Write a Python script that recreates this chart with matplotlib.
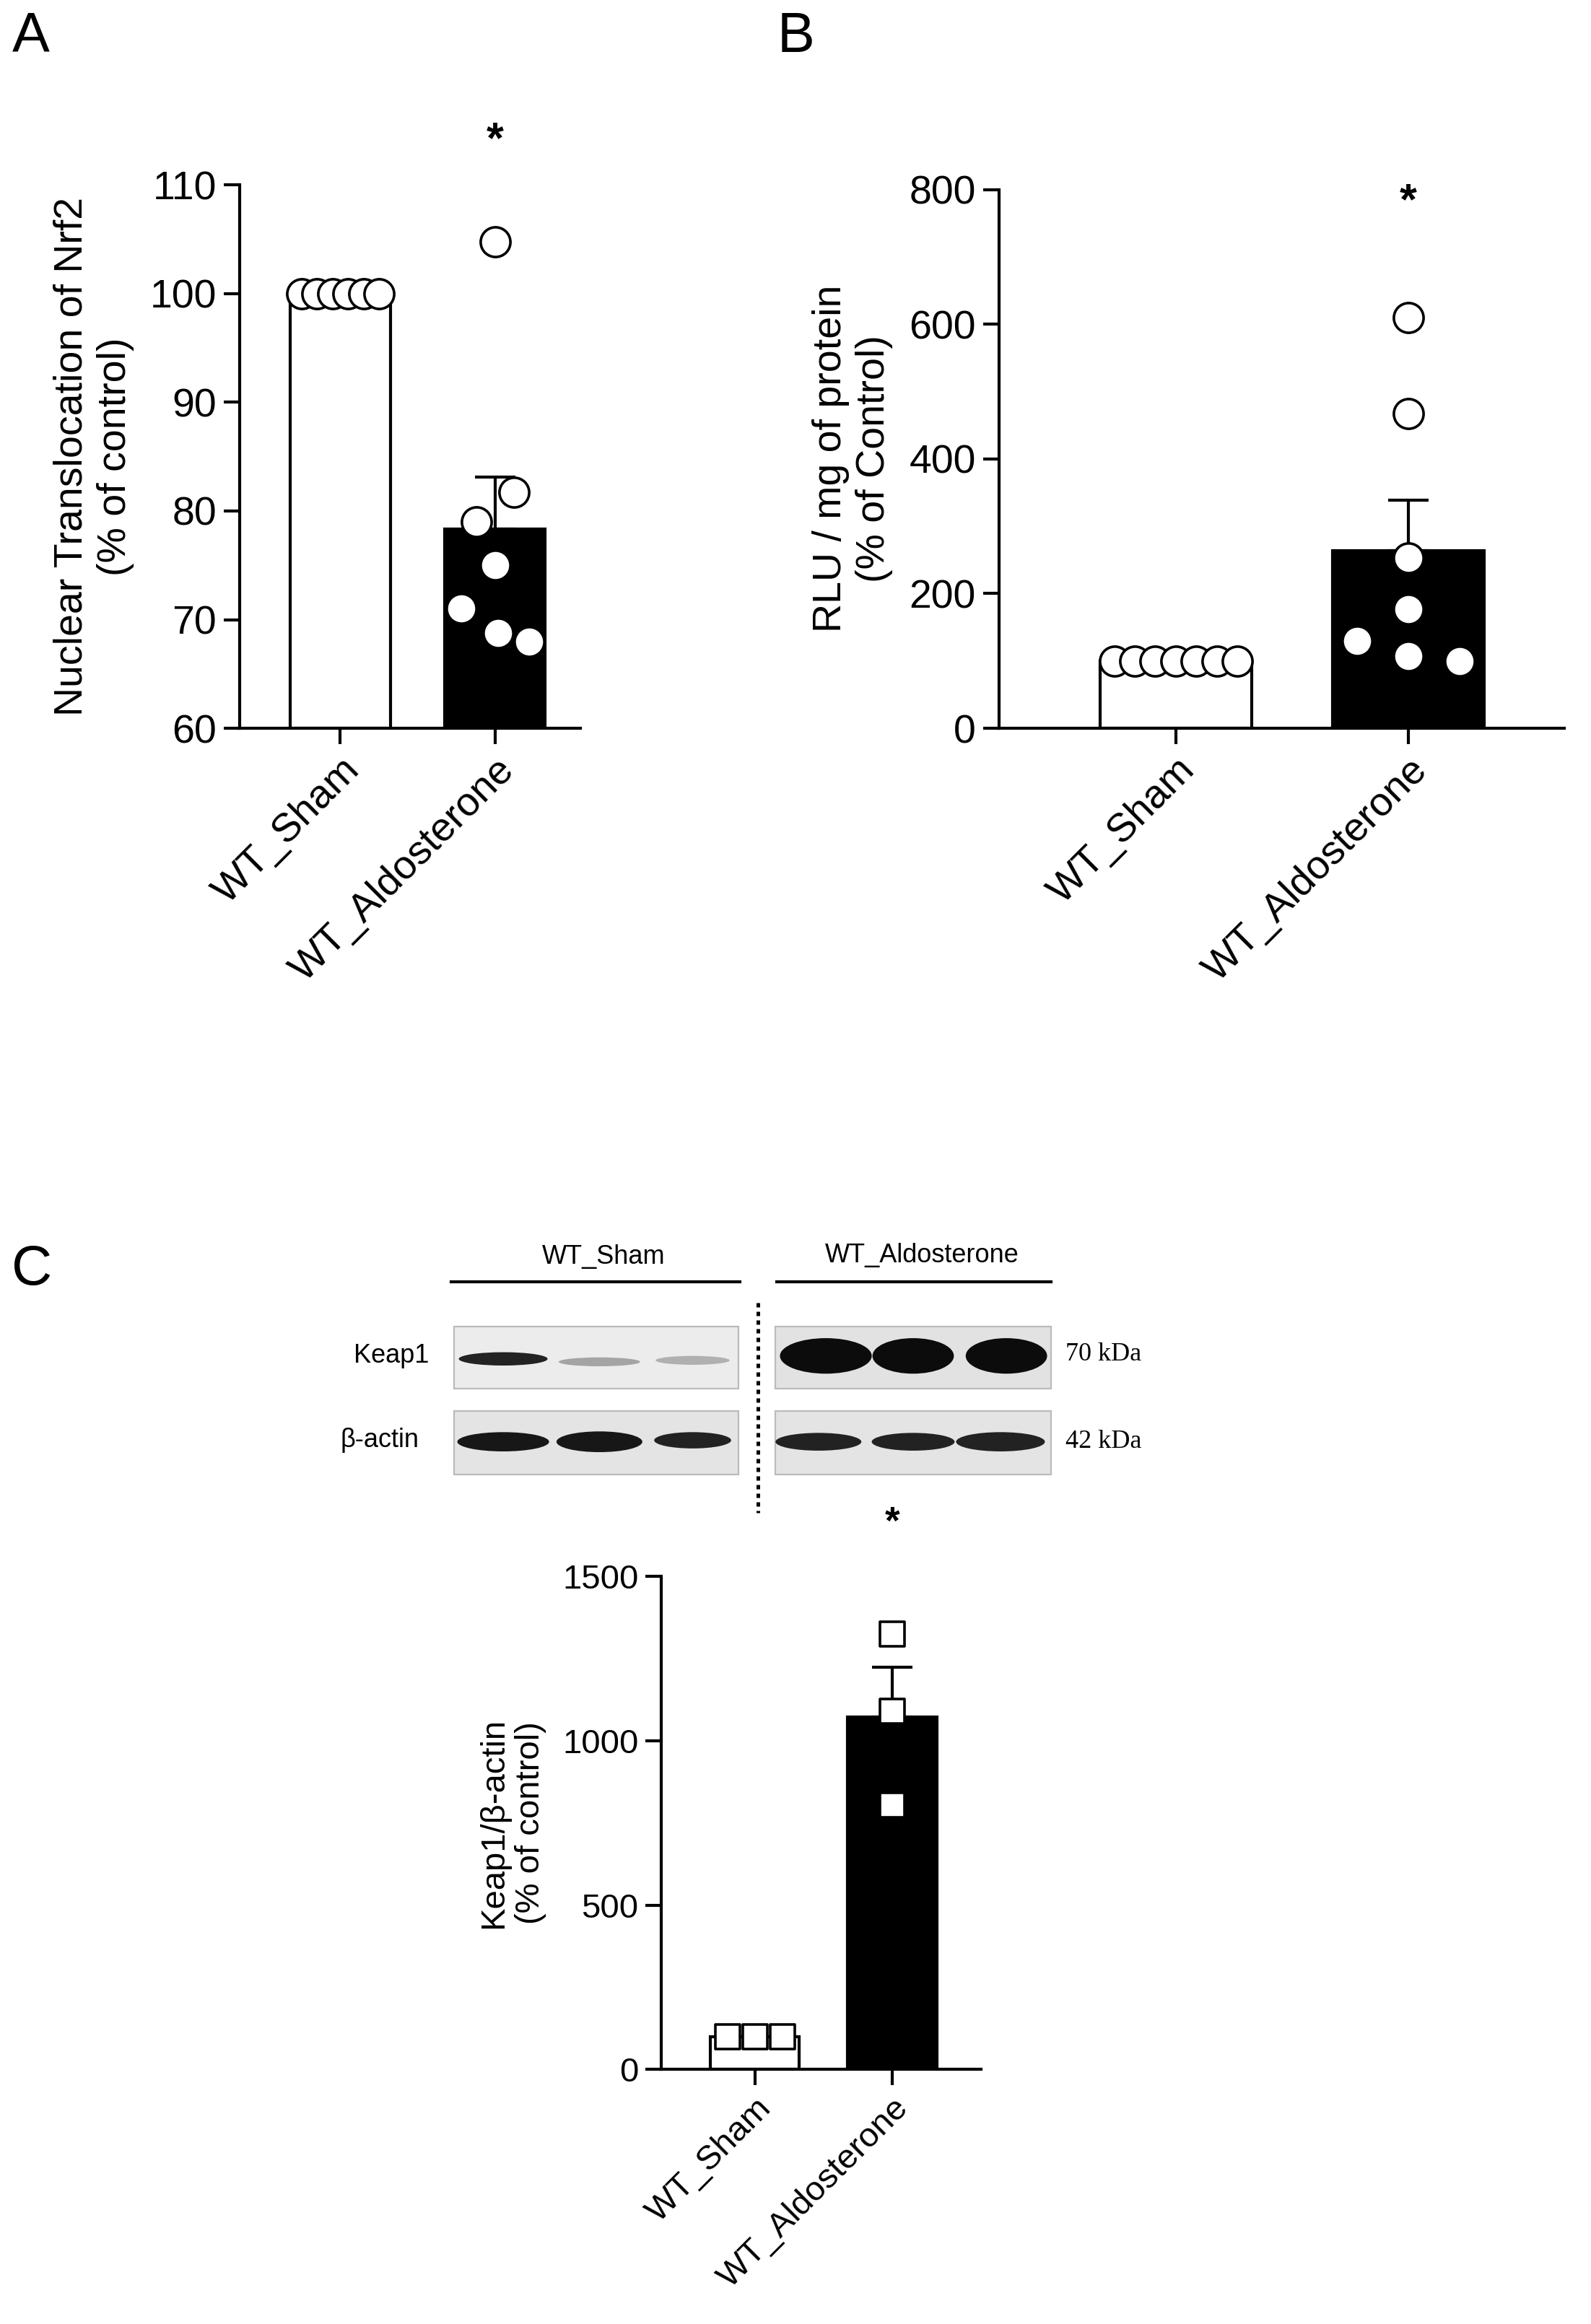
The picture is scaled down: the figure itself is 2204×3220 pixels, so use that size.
import numpy as np
import matplotlib
matplotlib.use("Agg")
import matplotlib.pyplot as plt
from matplotlib.patches import Rectangle, Ellipse

plt.rcParams['font.family'] = ['Liberation Sans', 'DejaVu Sans']

groups = ["WT_Sham", "WT_Aldosterone"]
a_sham = [100, 100, 100, 100, 100, 100]
a_aldo = [104.8, 81.7, 79, 75, 71, 68.8, 68]
b_sham = [100, 100, 100, 100, 100, 100, 100]
b_aldo = [610, 467, 253, 177, 130, 107, 100]
c_sham = [100, 100, 100]
c_aldo = [1325, 1090, 805]

W, H = 1075, 1570
fig = plt.figure(figsize=(11.02, 16.1), dpi=200)

def axbox(l, r, t, b):
    return fig.add_axes([l / W, 1 - b / H, (r - l) / W, (b - t) / H])

def sem(v):
    v = np.asarray(v, float)
    return v.std(ddof=1) / np.sqrt(len(v))

def offsets(n, step):
    return (np.arange(n) - (n - 1) / 2) * step

def panel(ax, sham, aldo, ylim, ticks, ylabel, xlim, marker, ms, fs, spread_s, spread_a, star_y, aldo_order_off):
    ax.set_xlim(*xlim)
    ax.set_ylim(*ylim)
    means = [np.mean(sham), np.mean(aldo)]
    ax.bar([0, 1], [m - ylim[0] for m in means], bottom=ylim[0], width=0.65,
           color=['white', 'black'], edgecolor='black', linewidth=1.5, zorder=2)
    ax.errorbar([1], [means[1]], yerr=[[0], [sem(aldo)]], color='black', capsize=10,
                capthick=1.5, elinewidth=1.5, zorder=1)
    ax.scatter(offsets(len(sham), spread_s), sham, s=ms, marker=marker, facecolor='white',
               edgecolor='black', linewidth=1.3, zorder=3)
    xs = 1 + np.array(aldo_order_off)
    fc = ['white' if v > means[1] else 'white' for v in aldo]
    ax.scatter(xs, aldo, s=ms, marker=marker, facecolor='white', edgecolor='black',
               linewidth=1.3, zorder=3)
    ax.text(1, star_y, '*', ha='center', va='center', fontsize=fs + 2, fontweight='bold')
    ax.set_yticks(ticks)
    ax.set_xticks([0, 1])
    ax.set_xticklabels(groups, rotation=45, ha='right', rotation_mode='anchor', fontsize=fs)
    ax.tick_params(axis='y', labelsize=fs, width=1.5, length=8)
    ax.tick_params(axis='x', width=1.5, length=8)
    for s in ['top', 'right']:
        ax.spines[s].set_visible(False)
    for s in ['left', 'bottom']:
        ax.spines[s].set_linewidth(1.5)
    ax.set_ylabel(ylabel, fontsize=fs, labelpad=8)

# Panel A
axA = axbox(162, 392, 125, 492)
panel(axA, a_sham, a_aldo, (60, 110), [60, 70, 80, 90, 100, 110],
      "Nuclear Translocation of Nrf2\n(% of control)", (-0.65, 1.55), 'o', 220, 20,
      0.1, 0, 114, [0, 0.12, -0.12, 0, -0.22, 0.02, 0.22])
# fill points inside black bar white already; adjust: points below mean are white on black
# Panel B
axB = axbox(675, 1057, 128, 492)
panel(axB, b_sham, b_aldo, (0, 800), [0, 200, 400, 600, 800],
      "RLU / mg of protein\n(% of Control)", (-0.76, 1.67), 'o', 220, 20,
      0.088, 0, 780, [0, 0, 0, 0, -0.22, 0, 0.22])
# Panel C
axC = axbox(447, 663, 1065, 1398)
panel(axC, c_sham, c_aldo, (0, 1500), [0, 500, 1000, 1500],
      "Keap1/β-actin\n(% of control)", (-0.68, 1.65), 's', 150, 17,
      0.2, 0, 1660, [0, 0, 0])
axC.set_ylim(0, 1500)
axC.text(1, 1660, '*', ha='center', va='center', fontsize=19, fontweight='bold', clip_on=False)
axA.texts[0].set_clip_on(False)
axB.texts[0].set_clip_on(False)
axC.texts[0].set_visible(False)

# overlay for letters and blot
ov = fig.add_axes([0, 0, 1, 1], zorder=-1)
ov.set_xlim(0, W); ov.set_ylim(H, 0); ov.axis('off')
ov.text(8, 25, 'A', fontsize=28, va='center')
ov.text(525, 25, 'B', fontsize=28, va='center')
ov.text(8, 858, 'C', fontsize=28, va='center')

ov.text(408, 849, 'WT_Sham', ha='center', va='center', fontsize=13)
ov.text(623, 848, 'WT_Aldosterone', ha='center', va='center', fontsize=13)
ov.plot([305, 500], [866, 866], color='black', lw=1.5)
ov.plot([525, 710], [866, 866], color='black', lw=1.5)
ov.plot([512, 512], [880, 1022], color='black', lw=1.8, ls=(0, (1.2, 1.2)))
ov.text(290, 916, 'Keap1', ha='right', va='center', fontsize=13)
ov.text(283, 973, 'β-actin', ha='right', va='center', fontsize=13)
ov.text(720, 915, '70 kDa', ha='left', va='center', fontsize=13, family='Liberation Serif')
ov.text(720, 974, '42 kDa', ha='left', va='center', fontsize=13, family='Liberation Serif')

for (x0, x1, y0, y1, bg) in [(307, 499, 896, 938, '#ececec'), (524, 710, 896, 938, '#e2e2e2'),
                             (307, 499, 953, 996, '#e4e4e4'), (524, 710, 953, 996, '#e4e4e4')]:
    ov.add_patch(Rectangle((x0, y0), x1 - x0, y1 - y0, facecolor=bg, edgecolor='#bbbbbb', lw=0.8))
bands = [(340, 918, 60, 9, 0.85), (405, 920, 55, 6, 0.3), (468, 919, 50, 6, 0.25),
         (558, 916, 62, 24, 0.95), (617, 916, 55, 24, 0.95), (680, 916, 55, 24, 0.95),
         (340, 974, 62, 13, 0.9), (405, 974, 58, 14, 0.9), (468, 973, 52, 11, 0.85),
         (553, 974, 58, 12, 0.85), (617, 974, 56, 12, 0.85), (676, 974, 60, 13, 0.85)]
for x, y, w, h, a in bands:
    ov.add_patch(Ellipse((x, y), w, h, color='black', alpha=a, lw=0))

fig.savefig('out.png', dpi=200)
